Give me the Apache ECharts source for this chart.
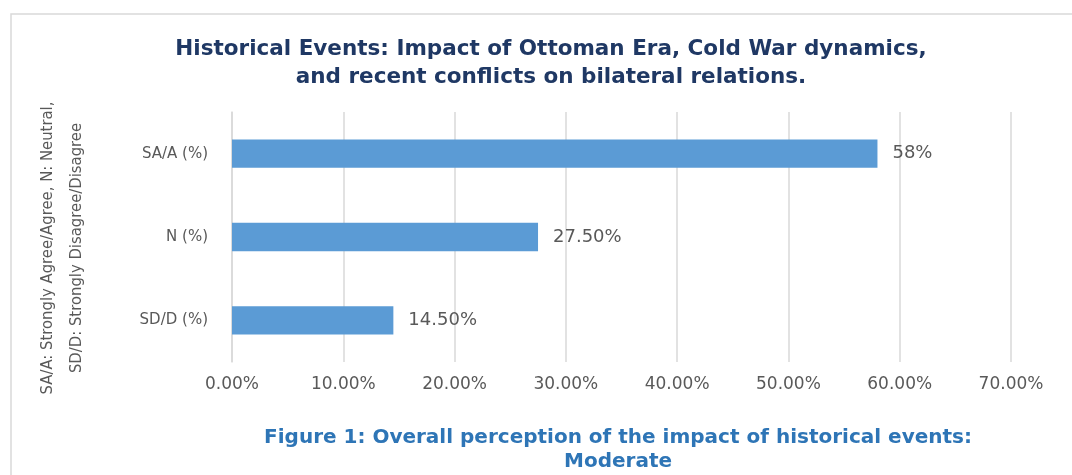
<!DOCTYPE html>
<html>
<head>
<meta charset="utf-8">
<script src="https://cdn.jsdelivr.net/npm/echarts@6/dist/echarts.min.js"></script>
<style>
  html, body { margin: 0; padding: 0; background: #ffffff; }
  #chart { width: 1072px; height: 475px; }
</style>
</head>
<body>
<div id="chart"></div>
<script>
// Response categories, bottom to top as drawn on the category axis
const categories = ['SD/D (%)', 'N (%)', 'SA/A (%)'];
// Share of respondents per category (percent)
const shares = [14.5, 27.5, 58];
// Text printed beside each bar
const shareLabels = ['14.50%', '27.50%', '58%'];

const chart = echarts.init(document.getElementById('chart'));

chart.setOption({
  backgroundColor: '#ffffff',
  animation: false,
  graphic: [{
    type: 'rect',
    shape: { x: 11, y: 14, width: 1100, height: 520 },
    style: { fill: 'none', stroke: '#d9d9d9', lineWidth: 1.5 },
    silent: true
  }],
  title: [{
    text: 'Historical Events: Impact of Ottoman Era, Cold War dynamics,\nand recent conflicts on bilateral relations.',
    left: 546,
    top: 30,
    textAlign: 'center',
    textStyle: {
      fontFamily: 'DejaVu Sans',
      fontWeight: 'bold',
      fontSize: 21.5,
      lineHeight: 28,
      color: '#1f3864'
    }
  }, {
    text: 'Figure 1: Overall perception of the impact of historical events:\nModerate',
    left: 613,
    top: 421,
    textAlign: 'center',
    textStyle: {
      fontFamily: 'DejaVu Sans',
      fontWeight: 'bold',
      fontSize: 20,
      lineHeight: 24,
      color: '#2e75b6'
    }
  }],
  grid: { left: 232, right: 61, top: 112, bottom: 113 },
  xAxis: {
    type: 'value',
    min: 0,
    max: 70,
    interval: 10,
    axisLine: { show: false },
    axisTick: { show: false },
    splitLine: { lineStyle: { color: '#d9d9d9', width: 1.5 } },
    axisLabel: {
      margin: 14,
      fontFamily: 'DejaVu Sans',
      fontSize: 17,
      color: '#595959',
      formatter: v => v.toFixed(2) + '%'
    }
  },
  yAxis: {
    type: 'category',
    data: categories,
    name: 'SA/A: Strongly Agree/Agree, N: Neutral,\nSD/D: Strongly Disagree/Disagree',
    nameLocation: 'middle',
    nameGap: 141,
    nameTextStyle: {
      fontFamily: 'DejaVu Sans Condensed',
      fontSize: 16.5,
      lineHeight: 29,
      padding: [0, 22, 0, 0],
      color: '#595959'
    },
    axisLine: { lineStyle: { color: '#d9d9d9', width: 1.5 } },
    axisTick: { show: false },
    axisLabel: {
      margin: 24,
      fontFamily: 'DejaVu Sans',
      fontSize: 15,
      color: '#595959'
    }
  },
  series: [{
    type: 'bar',
    data: shares,
    barWidth: '34%',
    itemStyle: { color: '#5b9bd5' },
    label: {
      show: true,
      position: 'right',
      distance: 15,
      fontFamily: 'DejaVu Sans',
      fontSize: 18,
      color: '#595959',
      formatter: p => shareLabels[p.dataIndex]
    }
  }]
});
</script>
</body>
</html>
